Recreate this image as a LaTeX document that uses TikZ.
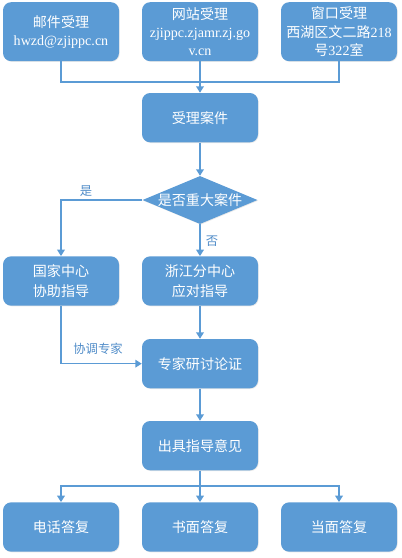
\documentclass[tikz,border=0pt]{standalone}
\usepackage{fontspec}
\setmainfont{Liberation Serif}
\newfontfamily\cjk{Noto Sans CJK SC}
\usetikzlibrary{arrows.meta,positioning,shapes.geometric,shadows}
\definecolor{fcBlue}  {RGB}{ 91,155,213}
\definecolor{fcBlueD} {RGB}{ 80,140,200}

\begin{document}
\begin{tikzpicture}[
  >={Triangle[length=5.5pt,width=6.5pt]},
  every node/.style={font=\cjk\fontsize{12}{15.5}\selectfont},
  box/.style ={fill=fcBlue,rounded corners=7pt,text=white,
               minimum width=3.48cm,minimum height=1.48cm,align=center,
               inner sep=1pt,
               drop shadow={opacity=0.18,shadow xshift=0.6pt,shadow yshift=-0.6pt}},
  topbox/.style={box,minimum height=1.77cm},
  twoline/.style={font=\cjk\fontsize{12}{17.5}\selectfont},
  decide/.style={diamond,aspect=2.4,fill=fcBlue,text=white,inner sep=-1.5pt,
               minimum width=3.45cm,minimum height=1.44cm,
               drop shadow={opacity=0.18,shadow xshift=0.6pt,shadow yshift=-0.6pt}},
  flow/.style={draw=fcBlue,line width=1.3pt},
  tag/.style ={text=fcBlueD,font=\cjk\fontsize{10.5}{12}\selectfont}
]
\useasboundingbox (0,0) rectangle (12.03,-16.74);

% intake channels
\node[topbox] (mail) at (1.83,-0.95)  {邮件受理\\\rmfamily hwzd@zjippc.cn};
\node[topbox] (web)  at (6.0,-0.95)   {网站受理\\\rmfamily zjippc.zjamr.zj.go\\\rmfamily v.cn};
\node[topbox] (win)  at (10.17,-0.95) {窗口受理\\西湖区文二路{\rmfamily 218}\\号{\rmfamily 322}室};
% case handling
\node[box]    (accept) at (6.0,-3.53)  {受理案件};
\node[decide] (major)  at (6.0,-6.0)   {是否重大案件};
\node[box,twoline] (nat) at (1.83,-8.43) {国家中心\\协助指导};
\node[box,twoline] (zj)  at (6.0,-8.43)  {浙江分中心\\应对指导};
\node[box]    (expert) at (6.0,-10.91) {专家研讨论证};
\node[box]    (advice) at (6.0,-13.37) {出具指导意见};
% replies
\node[box]    (phone)  at (1.83,-15.81)  {电话答复};
\node[box]    (paper)  at (6.0,-15.81)   {书面答复};
\node[box]    (face)   at (10.17,-15.81) {当面答复};

\coordinate (merge) at (6.0,-2.46);
\coordinate (split) at (6.0,-14.58);

% arrows
\draw[flow] (mail.south) |- (merge) -| (win.south);
\draw[flow,->] (web.south) -- (accept.north);
\draw[flow,->] (accept.south) -- (major.north);
\draw[flow,->] (major.west) -| (nat.north);
\draw[flow,->] (major.south) -- (zj.north);
\draw[flow,->] (nat.south) |- (expert.west);
\draw[flow,->] (zj.south) -- (expert.north);
\draw[flow,->] (expert.south) -- (advice.north);
\draw[flow] (advice.south) -- (split);
\draw[flow,->] (split) -| (phone.north);
\draw[flow,->] (split) -- (paper.north);
\draw[flow,->] (split) -| (face.north);

\node[tag] (yes)  at (2.58,-5.73)  {是};
\node[tag] (no)   at (6.36,-7.23)  {否};
\node[tag] (coop) at (2.94,-10.47) {协调专家};
\end{tikzpicture}
\end{document}
